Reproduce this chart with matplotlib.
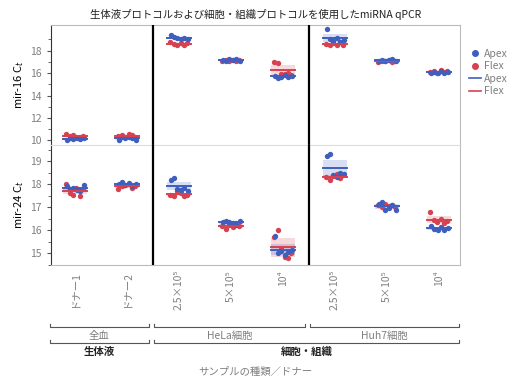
import numpy as np
import matplotlib
matplotlib.use("Agg")
import matplotlib.pyplot as plt
from matplotlib.transforms import blended_transform_factory
from matplotlib.lines import Line2D

plt.rcParams['font.family'] = ['Noto Sans CJK JP', 'DejaVu Sans']

# --- data ---
categories = ["ドナー1", "ドナー2", "2.5×10⁵", "5×10⁵", "10⁴", "2.5×10⁵", "5×10⁵", "10⁴"]

mir16_apex = [
    [10.0, 10.2, 10.15, 10.25, 10.1, 10.2],
    [10.0, 10.3, 10.25, 10.35, 10.2, 10.0],
    [19.4, 19.2, 19.1, 19.0, 19.15, 19.05],
    [17.2, 17.1, 17.25, 17.15, 17.3, 17.1],
    [15.75, 15.6, 15.7, 15.8, 15.65, 15.75],
    [19.95, 19.0, 18.9, 19.1, 18.8, 18.95],
    [17.1, 17.2, 17.05, 17.15, 17.25, 17.1],
    [16.0, 16.1, 16.05, 16.15, 16.0, 16.1],
]
mir16_flex = [
    [10.6, 10.4, 10.45, 10.3, 10.35, 10.4],
    [10.4, 10.5, 10.3, 10.6, 10.45, 10.35],
    [18.8, 18.6, 18.5, 18.7, 18.55, 18.65],
    [17.1, 17.2, 17.05, 17.15, 17.1, 17.2],
    [17.0, 16.9, 15.95, 15.9, 16.0, 15.85],
    [18.6, 18.5, 18.7, 18.55, 18.8, 18.5],
    [17.0, 17.1, 17.05, 17.15, 17.0, 17.1],
    [16.1, 16.2, 16.0, 16.25, 16.1, 16.15],
]
mir24_apex = [
    [17.9, 17.8, 17.85, 17.75, 17.7, 17.95],
    [18.0, 18.1, 17.95, 18.05, 17.9, 18.0],
    [18.2, 18.25, 17.8, 17.75, 17.85, 17.7],
    [16.35, 16.4, 16.35, 16.3, 16.25, 16.4],
    [15.75, 15.0, 15.1, 14.95, 15.05, 15.15],
    [19.2, 19.3, 18.4, 18.3, 18.5, 18.45],
    [17.15, 17.25, 16.9, 16.95, 17.1, 16.9],
    [16.2, 16.05, 16.0, 16.15, 16.0, 16.1],
]
mir24_flex = [
    [18.0, 17.6, 17.55, 17.85, 17.5, 17.8],
    [17.8, 17.9, 17.95, 18.0, 17.85, 17.9],
    [17.55, 17.5, 17.7, 17.6, 17.5, 17.55],
    [16.2, 16.05, 16.25, 16.15, 16.3, 16.2],
    [15.7, 16.0, 15.2, 14.85, 14.8, 15.0],
    [18.3, 18.2, 18.35, 18.45, 18.25, 18.4],
    [17.1, 17.0, 17.15, 17.05, 17.1, 17.0],
    [16.8, 16.45, 16.35, 16.5, 16.3, 16.4],
]

groups1 = ["全血", "HeLa細胞", "Huh7細胞"]
groups2 = ["生体液", "細胞・組織"]

# --- style ---
BLUE = "#3f5fbf"
RED = "#d8414f"
GREY = "#7f7f7f"
jit_a = [-0.16, -0.09, -0.03, 0.04, 0.1, 0.17]
jit_f = [-0.17, -0.1, -0.04, 0.03, 0.09, 0.16]


def draw_series(ax, data, offsets, color):
    for i, vals in enumerate(data):
        vals = np.array(vals)
        ax.scatter(i + np.array(offsets), vals, s=15, color=color, zorder=3, linewidths=0)
        m = vals.mean()
        ci = 1.96 * vals.std(ddof=1) / np.sqrt(len(vals))
        ax.fill_between([i - 0.23, i + 0.23], m - ci, m + ci, color=color, alpha=0.2, lw=0, zorder=1)
        ax.plot([i - 0.23, i + 0.23], [m, m], color=color, lw=1.4, zorder=4)


fig = plt.figure(figsize=(5.22, 3.86), dpi=100)
ax1 = fig.add_axes([0.0977, 0.6245, 0.7833, 0.311])
ax2 = fig.add_axes([0.0977, 0.3135, 0.7833, 0.311])

for ax, apex, flex in [(ax1, mir16_apex, mir16_flex), (ax2, mir24_apex, mir24_flex)]:
    draw_series(ax, flex, jit_f, RED)
    draw_series(ax, apex, jit_a, BLUE)
    ax.set_xlim(-0.46, 7.4)
    for xs in [1.5, 4.5]:
        ax.axvline(xs, color="black", lw=1.6, zorder=5)
    for side in ["top", "right", "bottom"]:
        ax.spines[side].set_color("#bbbbbb")
    ax.spines["left"].set_color("#333333")
    ax.tick_params(axis="y", colors="#555555", labelcolor=GREY, labelsize=7.5, length=3)
    ax.tick_params(axis="y", which="minor", length=2, colors="#555555")
    ax.tick_params(axis="x", length=0)

ax1.set_ylim(9.6, 20.3)
ax1.set_yticks([10, 12, 14, 16, 18])
ax1.set_yticks([11, 13, 15, 17, 19], minor=True)
ax1.set_xticks([])
ax1.spines["bottom"].set_color("#dddddd")
ax1.set_ylabel("mir-16 C$_t$", fontsize=8)

ax2.set_ylim(14.55, 19.7)
ax2.set_yticks([15, 16, 17, 18, 19])
ax2.set_yticks([14.5, 15.5, 16.5, 17.5, 18.5, 19.5], minor=True)
ax2.spines["top"].set_color("#dddddd")
ax2.set_ylabel("mir-24 C$_t$", fontsize=8)
ax2.set_xticks(range(len(categories)))
ax2.set_xticklabels(categories, rotation=90, fontsize=7.5, color=GREY)
ax1.yaxis.set_label_coords(-0.06, 0.5)
ax2.yaxis.set_label_coords(-0.06, 0.5)

fig.text(0.49, 0.962, "生体液プロトコルおよび細胞・組織プロトコルを使用したmiRNA qPCR",
         ha="center", va="center", fontsize=7.5, color="#222222")

# group brackets under the x axis
tr = blended_transform_factory(ax2.transData, fig.transFigure)


def bracket(x0, x1, y, label, ly, **kw):
    ax2.plot([x0, x0, x1, x1], [y + 0.008, y, y, y + 0.008], transform=tr,
             color="#555555", lw=0.8, clip_on=False)
    ax2.text((x0 + x1) / 2, ly, label, transform=tr, ha="center", va="center", **kw)


spans1 = [(-0.48, 1.42), (1.52, 4.42), (4.52, 7.38)]
for (a, b), lab in zip(spans1, groups1):
    bracket(a, b, 0.153, lab, 0.130, fontsize=7.5, color=GREY)
spans2 = [(-0.48, 1.42), (1.52, 7.38)]
for (a, b), lab in zip(spans2, groups2):
    bracket(a, b, 0.112, lab, 0.088, fontsize=7.5, color="#222222", fontweight="bold")

fig.text(0.49, 0.036, "サンプルの種類／ドナー", ha="center", va="center", fontsize=7.5, color=GREY)

handles = [
    Line2D([], [], marker="o", ls="", color=BLUE, markersize=4),
    Line2D([], [], marker="o", ls="", color=RED, markersize=4),
    Line2D([], [], color=BLUE, lw=1.2),
    Line2D([], [], color=RED, lw=1.2),
]
fig.legend(handles, ["Apex", "Flex", "Apex", "Flex"], loc="upper left",
           bbox_to_anchor=(0.89, 0.885), frameon=False, fontsize=7.5,
           handlelength=1.2, handletextpad=0.3, labelspacing=0.25, borderaxespad=0,
           labelcolor=GREY)

fig.savefig("out.png", dpi=100)
